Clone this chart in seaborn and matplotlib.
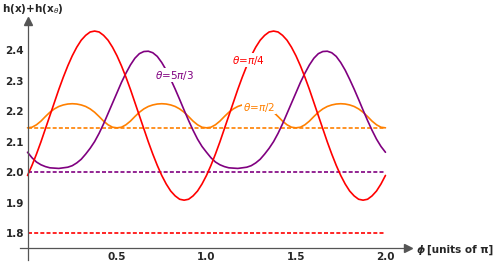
import numpy as np
import matplotlib
matplotlib.use("Agg")
import matplotlib.pyplot as plt
import seaborn as sns

# ---- data (phi in units of pi) ----
phi = [0.000, 0.025, 0.050, 0.075, 0.100, 0.125, 0.150, 0.175, 0.200, 0.225,
       0.250, 0.275, 0.300, 0.325, 0.350, 0.375, 0.400, 0.425, 0.450, 0.475,
       0.500, 0.525, 0.550, 0.575, 0.600, 0.625, 0.650, 0.675, 0.700, 0.725,
       0.750, 0.775, 0.800, 0.825, 0.850, 0.875, 0.900, 0.925, 0.950, 0.975,
       1.000, 1.025, 1.050, 1.075, 1.100, 1.125, 1.150, 1.175, 1.200, 1.225,
       1.250, 1.275, 1.300, 1.325, 1.350, 1.375, 1.400, 1.425, 1.450, 1.475,
       1.500, 1.525, 1.550, 1.575, 1.600, 1.625, 1.650, 1.675, 1.700, 1.725,
       1.750, 1.775, 1.800, 1.825, 1.850, 1.875, 1.900, 1.925, 1.950, 1.975,
       2.000]

h_pi4 = [1.989, 2.022, 2.059, 2.099, 2.142, 2.185, 2.228, 2.271, 2.311, 2.348,
         2.381, 2.409, 2.432, 2.448, 2.459, 2.462, 2.459, 2.448, 2.432, 2.409,
         2.381, 2.348, 2.311, 2.271, 2.228, 2.185, 2.142, 2.099, 2.059, 2.022,
         1.989, 1.961, 1.938, 1.922, 1.911, 1.908, 1.911, 1.922, 1.938, 1.961,
         1.989, 2.022, 2.059, 2.099, 2.142, 2.185, 2.228, 2.271, 2.311, 2.348,
         2.381, 2.409, 2.432, 2.448, 2.459, 2.462, 2.459, 2.448, 2.432, 2.409,
         2.381, 2.348, 2.311, 2.271, 2.228, 2.185, 2.142, 2.099, 2.059, 2.022,
         1.989, 1.961, 1.938, 1.922, 1.911, 1.908, 1.911, 1.922, 1.938, 1.961,
         1.989]

h_pi2 = [2.145, 2.147, 2.155, 2.167, 2.182, 2.196, 2.207, 2.215, 2.220, 2.223,
         2.224, 2.223, 2.220, 2.215, 2.207, 2.196, 2.182, 2.167, 2.155, 2.147,
         2.145, 2.147, 2.155, 2.167, 2.182, 2.196, 2.207, 2.215, 2.220, 2.223,
         2.224, 2.223, 2.220, 2.215, 2.207, 2.196, 2.182, 2.167, 2.155, 2.147,
         2.145, 2.147, 2.155, 2.167, 2.182, 2.196, 2.207, 2.215, 2.220, 2.223,
         2.224, 2.223, 2.220, 2.215, 2.207, 2.196, 2.182, 2.167, 2.155, 2.147,
         2.145, 2.147, 2.155, 2.167, 2.182, 2.196, 2.207, 2.215, 2.220, 2.223,
         2.224, 2.223, 2.220, 2.215, 2.207, 2.196, 2.182, 2.167, 2.155, 2.147,
         2.145]

h_5pi3 = [2.065, 2.047, 2.033, 2.024, 2.018, 2.014, 2.013, 2.012, 2.014, 2.016,
          2.021, 2.030, 2.042, 2.059, 2.078, 2.100, 2.127, 2.158, 2.192, 2.226,
          2.260, 2.294, 2.324, 2.351, 2.373, 2.388, 2.395, 2.396, 2.391, 2.379,
          2.359, 2.334, 2.304, 2.272, 2.238, 2.203, 2.169, 2.137, 2.108, 2.084,
          2.065, 2.047, 2.033, 2.024, 2.018, 2.014, 2.013, 2.012, 2.014, 2.016,
          2.021, 2.030, 2.042, 2.059, 2.078, 2.100, 2.127, 2.158, 2.192, 2.226,
          2.260, 2.294, 2.324, 2.351, 2.373, 2.388, 2.395, 2.396, 2.391, 2.379,
          2.359, 2.334, 2.304, 2.272, 2.238, 2.203, 2.169, 2.137, 2.108, 2.084,
          2.065]

ref_phi = [0.0, 2.0]
ref_pi4 = [1.80, 1.80]
ref_pi2 = [2.145, 2.145]
ref_5pi3 = [2.00, 2.00]

x_ticks = [0.5, 1.0, 1.5, 2.0]
x_ticklabels = ["0.5", "1.0", "1.5", "2.0"]
y_ticks = [1.8, 1.9, 2.0, 2.1, 2.2, 2.3, 2.4]
y_ticklabels = ["1.8", "1.9", "2.0", "2.1", "2.2", "2.3", "2.4"]

lab_5pi3 = r"$\theta$=5$\pi$/3"
lab_pi4 = r"$\theta$=$\pi$/4"
lab_pi2 = r"$\theta$=$\pi$/2"

c_red = "#FF0000"
c_orange = "#FF8000"
c_purple = "#800080"
axis_col = "#555555"

sns.set_style("white")
plt.rcParams['font.family'] = ['DejaVu Sans']
plt.rcParams['mathtext.fontset'] = 'dejavusans'

fig = plt.figure(figsize=(4.98, 2.68), dpi=100)
ax = fig.add_axes([20/498, 8/268, 388/498, 239/268])

lw = 1.2
dash = (0, (2.4, 1.3))
sns.lineplot(x=ref_phi, y=ref_pi4, color=c_red, lw=lw, linestyle=dash, ax=ax)
sns.lineplot(x=ref_phi, y=ref_5pi3, color=c_purple, lw=lw, linestyle=dash, ax=ax)
sns.lineplot(x=ref_phi, y=ref_pi2, color=c_orange, lw=lw, linestyle=dash, ax=ax)
sns.lineplot(x=phi, y=h_pi2, color=c_orange, lw=lw, ax=ax)
sns.lineplot(x=phi, y=h_5pi3, color=c_purple, lw=lw, ax=ax)
sns.lineplot(x=phi, y=h_pi4, color=c_red, lw=lw, ax=ax)

bb = dict(facecolor='white', edgecolor='none', pad=0.6)
ax.text(0.824, 2.318, lab_5pi3, color=c_purple, fontsize=7.5, ha='center', va='center', bbox=bb, zorder=5)
ax.text(1.232, 2.367, lab_pi4, color=c_red, fontsize=7.5, ha='center', va='center', bbox=bb, zorder=5)
ax.text(1.293, 2.213, lab_pi2, color=c_orange, fontsize=7.5, ha='center', va='center', bbox=bb, zorder=5)

# Mathematica-style axes
for s in ['top', 'right']:
    ax.spines[s].set_visible(False)
ax.spines['left'].set_position(('data', 0))
ax.spines['bottom'].set_position(('data', 1.75))
for s in ['left', 'bottom']:
    ax.spines[s].set_color(axis_col)
    ax.spines[s].set_linewidth(0.9)

ax.set_xticks(x_ticks)
ax.set_xticklabels(x_ticklabels)
ax.set_xticks(np.arange(0.1, 2.11, 0.1), minor=True)
ax.set_yticks(y_ticks)
ax.set_yticklabels(y_ticklabels)
ax.set_yticks(np.arange(1.76, 2.481, 0.02), minor=True)
ax.tick_params(which='major', direction='in', length=4, width=0.8, color=axis_col,
               labelsize=7.5, pad=2.5)
ax.tick_params(which='minor', direction='in', length=2, width=0.6, color=axis_col)
for t in ax.get_xticklabels() + ax.get_yticklabels():
    t.set_fontweight('bold')

ax.plot([1], [1.75], marker='>', ms=6, color=axis_col, transform=ax.get_yaxis_transform(), clip_on=False)
ax.plot([0], [1], marker='^', ms=6, color=axis_col, transform=ax.get_xaxis_transform(), clip_on=False)

ax.set_xlim(-0.042, 2.126)
ax.set_ylim(1.712, 2.495)
ax.set_xlabel("")
ax.set_ylabel("")

fig.text(2/498, 1 - 9/268, r"h(x)+h(x$_{\theta}$)", fontsize=7.5, fontweight='bold', va='center', ha='left')
fig.text(417/498, 1 - 250/268, "ϕ", fontsize=7.5, fontweight='bold', style='italic', va='center', ha='left')
fig.text(427/498, 1 - 250/268, "[units of π]", fontsize=7.5, fontweight='bold', va='center', ha='left')

fig.savefig("out.png", dpi=100)
